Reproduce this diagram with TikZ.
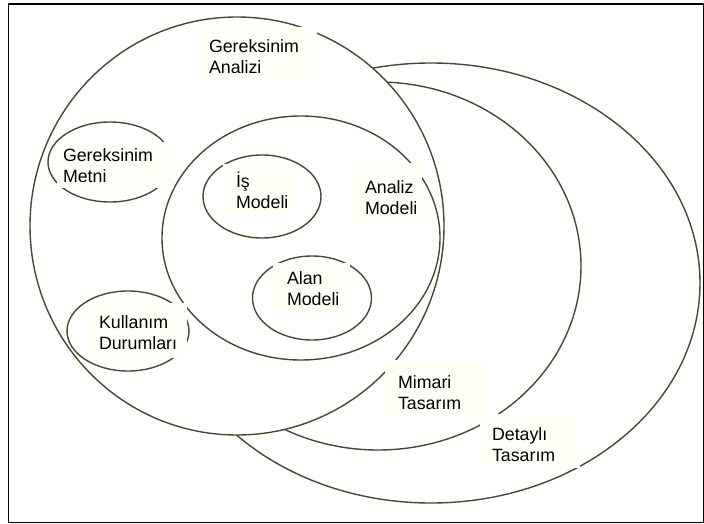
\documentclass[tikz,border=0pt]{standalone}
\usepackage{fontspec}
\setmainfont{Liberation Sans}
\usetikzlibrary{shapes.geometric}
\definecolor{ringcol}{RGB}{72,72,46}
\definecolor{boxfill}{RGB}{255,255,248}
\newcommand\lbltext[4]{\kern#1pt\parbox[t]{#2pt}{\raggedright\fontsize{17.8}{21}\selectfont #3\\#4}}
\tikzset{
  ring/.style={draw=ringcol, line width=1.4pt, ellipse, inner sep=0pt, outer sep=0pt},
  lbl/.style={fill=boxfill, inner sep=0pt, outer sep=0pt, anchor=base west, text=black},
  frame/.style={draw=black, line width=1.3pt}
}
\begin{document}
\begin{tikzpicture}[x=1pt,y=-1pt]
\useasboundingbox (0,0) rectangle (704,524);
\node[frame, rectangle, minimum width=695pt, minimum height=518pt, inner sep=0pt, anchor=north west] (fr) at (7.5,3.5) {};
% rings
\node[ring, minimum width=538pt, minimum height=440pt] (dt) at (431,283) {};
\node[ring, minimum width=406pt, minimum height=368pt] (mt) at (378,266) {};
\node[ring, fill=white, minimum width=414pt, minimum height=418pt] (ga) at (237,226) {};
\node[ring, minimum width=278pt, minimum height=244pt] (am) at (301,238) {};
\node[ring, minimum width=124pt, minimum height=80pt] (gm) at (110,162) {};
\node[ring, minimum width=122pt, minimum height=80pt] (kd) at (128,331) {};
\node[ring, minimum width=118pt, minimum height=83pt] (im) at (262,196.5) {};
\node[ring, minimum width=119pt, minimum height=84pt] (alm) at (312,298) {};
% labels
\node[lbl, text height=26pt, text depth=30pt] (gaL) at (198,53) {\lbltext{11}{108}{Gereksinim}{Analizi}};
\node[lbl, text height=19pt, text depth=27pt] (gmL) at (57,161) {\lbltext{6}{111}{Gereksinim}{Metni}};
\node[lbl, text height=23pt, text depth=31pt] (imL) at (223,187) {\lbltext{13}{57}{İş}{Modeli}};
\node[lbl, text height=21pt, text depth=31pt] (almL) at (273,284) {\lbltext{14}{63}{Alan}{Modeli}};
\node[lbl, text height=30pt, text depth=34pt] (amL) at (353,193) {\lbltext{12}{57}{Analiz}{Modeli}};
\node[lbl, text height=25pt, text depth=30pt] (kdL) at (88,328) {\lbltext{11}{88}{Kullanım}{Durumları}};
\node[lbl, text height=28pt, text depth=30pt] (mtL) at (385,388) {\lbltext{13}{90}{Mimari}{Tasarım}};
\node[lbl, text height=26pt, text depth=28pt] (dtL) at (480,440) {\lbltext{12}{88}{Detaylı}{Tasarım}};
\end{tikzpicture}
\end{document}
